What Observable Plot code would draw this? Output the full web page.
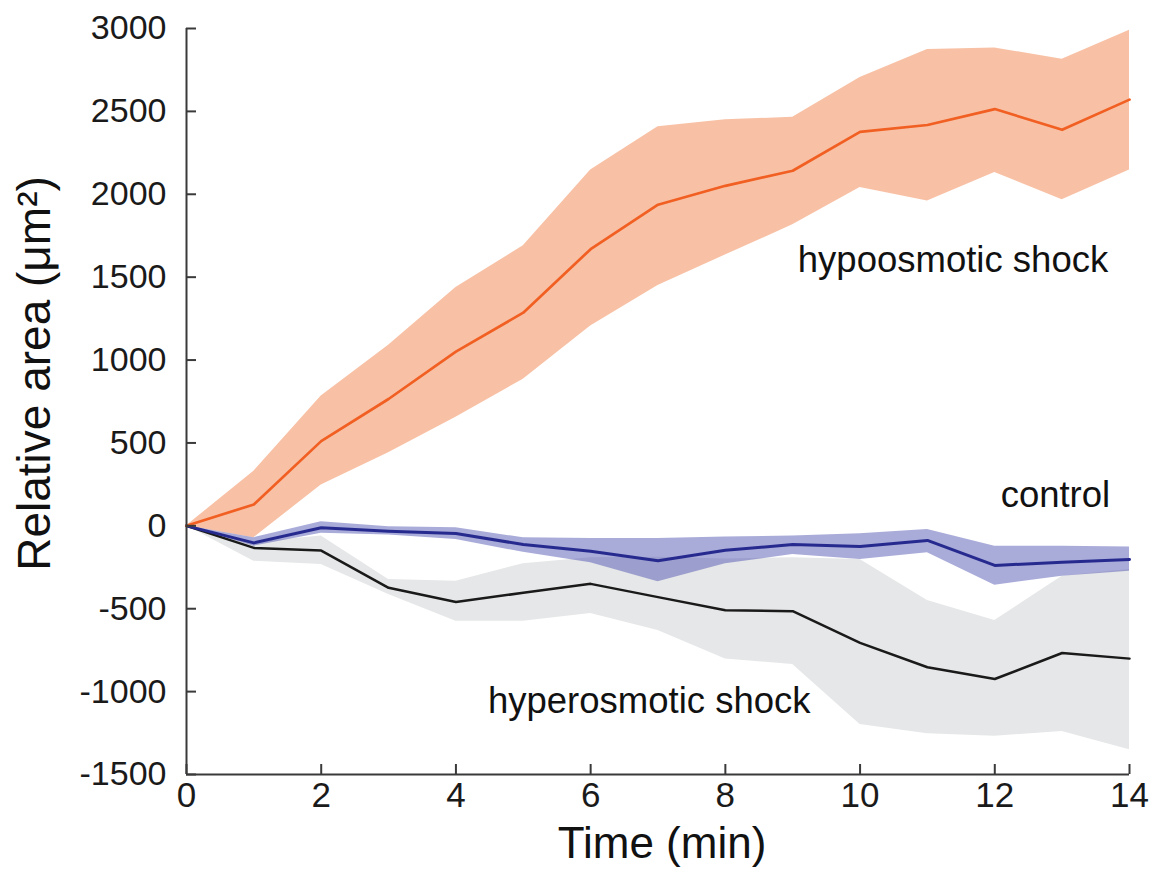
<!DOCTYPE html>
<html>
<head>
<meta charset="utf-8">
<script src="https://cdn.jsdelivr.net/npm/d3@7"></script>
<script src="https://cdn.jsdelivr.net/npm/@observablehq/plot@0.6"></script>
<style>
  html, body { margin: 0; padding: 0; background: #fff; }
  #chart { width: 1165px; height: 880px; }
</style>
</head>
<body>
<div id="chart"></div>
<script>
const time = [0, 1, 2, 3, 4, 5, 6, 7, 8, 9, 10, 11, 12, 13, 14];

const hypoMean  = [0, 129, 511, 765, 1051, 1286, 1669, 1937, 2051, 2142, 2376, 2418, 2514, 2389, 2571];
const hypoUpper = [0, 330, 783, 1090, 1437, 1689, 2146, 2408, 2450, 2464, 2705, 2873, 2883, 2814, 2989];
const hypoLower = [0, -72, 246, 441, 655, 884, 1206, 1450, 1633, 1816, 2041, 1960, 2132, 1967, 2146];

const ctrlMean  = [0, -103, -12, -32, -46, -113, -153, -211, -147, -113, -125, -88, -239, -219, -203];
const ctrlUpper = [0, -72, 24, -6, -12, -72, -76, -76, -68, -62, -48, -22, -123, -123, -127];
const ctrlLower = [0, -123, -45, -56, -82, -160, -223, -338, -229, -173, -203, -163, -358, -304, -274];

const hyperMean  = [0, -133, -149, -374, -459, -404, -350, -430, -509, -515, -706, -853, -924, -767, -801];
const hyperUpper = [0, -100, -62, -324, -334, -229, -193, -190, -200, -193, -203, -451, -571, -304, -263];
const hyperLower = [0, -213, -233, -414, -575, -575, -529, -632, -803, -837, -1199, -1254, -1270, -1240, -1350];

const xTicks = [0, 2, 4, 6, 8, 10, 12, 14];
const yTicks = [-1500, -1000, -500, 0, 500, 1000, 1500, 2000, 2500, 3000];

const labelText = ["hypoosmotic shock", "control", "hyperosmotic shock"];
const labelX = [11.38, 12.9, 6.87];
const labelY = [1603, 182, -1060];

const rows = time.map((t, i) => ({
  t,
  hypoMean: hypoMean[i], hypoUpper: hypoUpper[i], hypoLower: hypoLower[i],
  ctrlMean: ctrlMean[i], ctrlUpper: ctrlUpper[i], ctrlLower: ctrlLower[i],
  hyperMean: hyperMean[i], hyperUpper: hyperUpper[i], hyperLower: hyperLower[i]
}));
const labels = labelText.map((text, i) => ({ text, x: labelX[i], y: labelY[i] }));

const axisColor = "#3a3a3a";
const W = 1165, H = 880, ML = 186, MR = 36, MT = 28, MB = 106;

const chart = Plot.plot({
  width: W,
  height: H,
  marginLeft: ML,
  marginRight: MR,
  marginTop: MT,
  marginBottom: MB,
  style: { fontFamily: "'Liberation Sans', Arial, Helvetica, sans-serif", fontSize: "34px", color: "#1a1a1a", background: "#fff" },
  x: { domain: [0, 14] },
  y: { domain: [-1500, 3000] },
  marks: [
    Plot.areaY(rows, { x: "t", y1: "hyperLower", y2: "hyperUpper", fill: "#e6e7e8" }),
    Plot.areaY(rows, { x: "t", y1: "hypoLower", y2: "hypoUpper", fill: "#f8c1a5" }),
    Plot.areaY(rows, { x: "t", y1: "ctrlLower", y2: "ctrlUpper", fill: "#4b4fb0", fillOpacity: 0.48 }),
    Plot.line(rows, { x: "t", y: "hyperMean", stroke: "#1a1a1a", strokeWidth: 2.5 }),
    Plot.line(rows, { x: "t", y: "ctrlMean", stroke: "#262a8f", strokeWidth: 3 }),
    Plot.line(rows, { x: "t", y: "hypoMean", stroke: "#f15f22", strokeWidth: 2.7 }),
    Plot.ruleX([0], { stroke: axisColor, strokeWidth: 2 }),
    Plot.ruleY([-1500], { stroke: axisColor, strokeWidth: 2 }),
    Plot.ruleY(yTicks, { y: d => d, stroke: axisColor, strokeWidth: 2, insetRight: (W - ML - MR) - 10 }),
    Plot.ruleX(xTicks, { x: d => d, stroke: axisColor, strokeWidth: 2, insetTop: (H - MT - MB) - 10 }),
    Plot.axisY({ ticks: yTicks, tickSize: 0, tickPadding: 20, tickFormat: d => String(d), label: null, fontSize: 34 }),
    Plot.axisX({ ticks: xTicks, tickSize: 0, tickPadding: 8, tickFormat: d => String(d), label: null, fontSize: 35 }),
    Plot.text(labels, { x: "x", y: "y", text: "text", fontSize: 36.5, fill: "#111" }),
    Plot.text(["Time (min)"], { frameAnchor: "bottom", textAnchor: "middle", dx: 4, dy: 83, fontSize: 44, fill: "#111" }),
    Plot.text(["Relative area (μm²)"], { frameAnchor: "left", textAnchor: "middle", dx: -151, dy: -28, rotate: -90, fontSize: 46, fill: "#111" })
  ]
});
document.getElementById("chart").appendChild(chart);
</script>
</body>
</html>
